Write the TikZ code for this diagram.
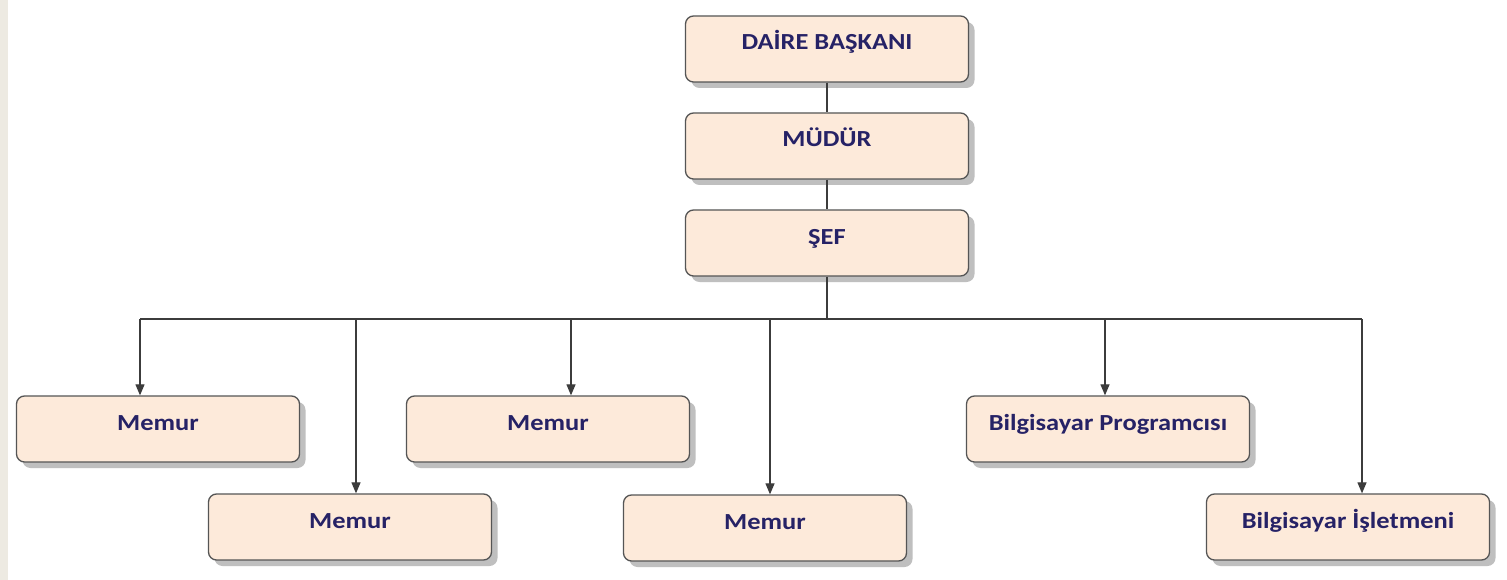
\documentclass[tikz,border=0pt]{standalone}
\usepackage{fontspec}
\setmainfont{Carlito}
\newfontfamily\boxfont[FakeStretch=1.15]{Carlito}
\usetikzlibrary{arrows.meta,shadows,calc}
\definecolor{boxfill}{RGB}{253,234,218}
\definecolor{boxline}{RGB}{85,85,85}
\definecolor{txt}{RGB}{38,34,102}
\definecolor{linec}{RGB}{60,60,60}
\definecolor{strip}{RGB}{237,234,226}
\tikzset{
  orgbox/.style={draw=boxline, line width=1.3pt, fill=boxfill, rounded corners=8pt,
    minimum width=283pt, minimum height=66pt, inner sep=0pt,
    text height=15pt, text depth=13pt, text=txt,
    font=\boxfont\bfseries\fontsize{23}{26}\selectfont,
    drop shadow={shadow xshift=6pt, shadow yshift=-6pt, fill=black!45, opacity=0.55}},
  conn/.style={draw=linec, line width=1.2pt},
  arr/.style={conn, -{Triangle[width=9pt,length=11pt]}}
}
\begin{document}
\begin{tikzpicture}[x=1pt,y=-1pt]
\useasboundingbox (0,0) rectangle (1507,580);
\fill[white] (0,0) rectangle (1507,580);
\fill[strip] (0,0) rectangle (8,580);
% top chain
\node[orgbox] (db) at (827,49) {DAİRE BAŞKANI};
\node[orgbox] (md) at (827,146) {MÜDÜR};
\node[orgbox] (sf) at (827,243) {ŞEF};
% lower boxes
\node[orgbox] (m1) at (158,429) {Memur};
\node[orgbox] (m2) at (350,527) {Memur};
\node[orgbox] (m3) at (548,429) {Memur};
\node[orgbox] (m4) at (765,528) {Memur};
\node[orgbox] (bp) at (1108,429) {Bilgisayar Programcısı};
\node[orgbox] (bi) at (1348,527) {Bilgisayar İşletmeni};
% arrow targets
\coordinate (a1) at ([xshift=-18pt]m1.north);
\coordinate (a2) at ([xshift=6pt]m2.north);
\coordinate (a3) at ([xshift=23pt]m3.north);
\coordinate (a4) at ([xshift=5pt]m4.north);
\coordinate (a5) at ([xshift=-3pt]bp.north);
\coordinate (a6) at ([xshift=14pt]bi.north);
\coordinate (bus) at (827,319);
% connectors
\draw[conn] (db.south) -- (md.north);
\draw[conn] (md.south) -- (sf.north);
\draw[conn] (sf.south) -- (bus);
\draw[conn] (bus -| a1) -- (bus -| a6);
\foreach \a in {a1,a2,a3,a4,a5,a6}
  \draw[arr] (bus -| \a) -- (\a);
\end{tikzpicture}
\end{document}
